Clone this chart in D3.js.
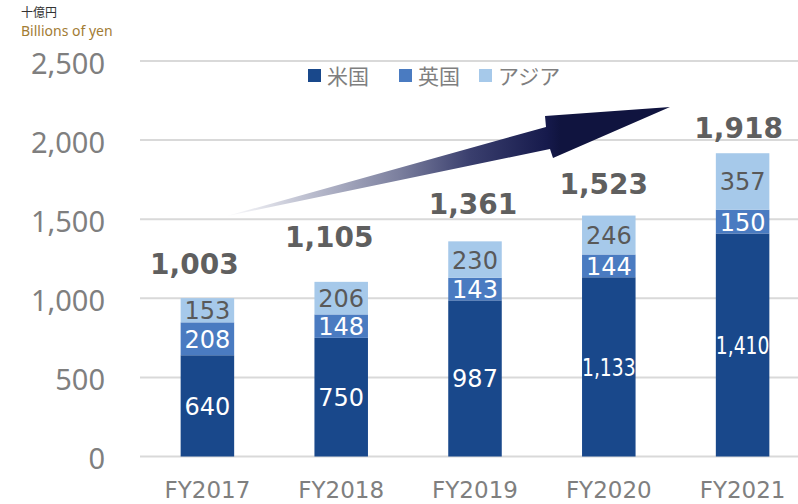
<!DOCTYPE html>
<html lang="ja">
<head>
<meta charset="utf-8">
<script src="https://cdn.jsdelivr.net/npm/d3@7"></script>
<style>
  html, body { margin: 0; padding: 0; background: #fff; }
  svg { display: block; }
</style>
</head>
<body>
<svg id="chart" width="798" height="504"></svg>
<script>
// Revenue by region, billions of yen
const years = ["FY2017", "FY2018", "FY2019", "FY2020", "FY2021"];
const seriesNames = ["米国", "英国", "アジア"];
const us = [640, 750, 987, 1133, 1410];
const uk = [208, 148, 143, 144, 150];
const asia = [153, 206, 230, 246, 357];
const totals = [1003, 1105, 1361, 1523, 1918];
const yTicks = [0, 500, 1000, 1500, 2000, 2500];

const colors = ["#19488b", "#4a7bc1", "#a6c9ea"];
const labelColors = ["#ffffff", "#ffffff", "#595959"];

// hand-tuned nudges for the total labels (dx, dy from bar top)
const totalNudge = [[-13, -24], [-12, -35], [-2, -27], [-5, -22], [-4, -15]];

const svg = d3.select("#chart");
const W = 798, H = 504;

const x = d3.scaleBand().domain(years).range([140.5, 809.5]).paddingInner(0.6).paddingOuter(0.3);
const y = d3.scaleLinear().domain([0, 2500]).range([456.5, 61]);

// rows for stacking
const rows = years.map((yr, i) => ({ year: yr, "米国": us[i], "英国": uk[i], "アジア": asia[i] }));
const stacked = d3.stack().keys(seriesNames)(rows);

// unit headers
svg.append("text").attr("x", 21).attr("y", 17)
  .attr("font-family", "'Noto Sans CJK JP', 'Noto Sans', sans-serif")
  .attr("font-size", 12).attr("fill", "#333").text("十億円");
svg.append("text").attr("x", 21).attr("y", 36)
  .attr("font-family", "'Noto Sans', sans-serif")
  .attr("font-size", 14).attr("fill", "#a27c34").text("Billions of yen");

// gridlines
svg.append("g").selectAll("line").data(yTicks).join("line")
  .attr("x1", 140).attr("x2", W)
  .attr("y1", d => y(d)).attr("y2", d => y(d))
  .attr("stroke", "#d9d9d9").attr("stroke-width", 2);

// y axis labels
const yAxis = d3.axisLeft(y).tickValues(yTicks).tickSize(0).tickPadding(0)
  .tickFormat(d3.format(","));
const gy = svg.append("g").attr("transform", "translate(105,0)").call(yAxis);
gy.select(".domain").remove();
gy.selectAll("text")
  .attr("font-family", "'Noto Sans', sans-serif")
  .attr("font-size", 29).attr("fill", "#7f7f7f")
  .attr("dy", null).attr("y", 12);

// x axis labels
const xAxis = d3.axisBottom(x).tickSize(0).tickPadding(0);
const gx = svg.append("g").attr("transform", "translate(0,497.5)").call(xAxis);
gx.select(".domain").remove();
gx.selectAll("text")
  .attr("font-family", "'DejaVu Sans', sans-serif")
  .attr("font-size", 23).attr("fill", "#7f7f7f")
  .attr("dy", null).attr("y", 0);

// arrow (gradient)
const defs = svg.append("defs");
const grad = defs.append("linearGradient").attr("id", "arrowGrad")
  .attr("gradientUnits", "userSpaceOnUse")
  .attr("x1", 225).attr("y1", 0).attr("x2", 560).attr("y2", 0);
[[0, "#ffffff"], [0.2, "#c8cad8"], [0.52, "#7b7f9e"], [0.73, "#3a3f6e"], [0.96, "#161a4c"], [1, "#10143f"]]
  .forEach(([o, c]) => grad.append("stop").attr("offset", o).attr("stop-color", c));
const arrowPts = [[225, 216.5], [546, 127], [545, 116], [670, 107], [553, 158], [550, 149]];
svg.append("path")
  .attr("d", d3.line()(arrowPts) + "Z")
  .attr("fill", "url(#arrowGrad)");

// stacked bars
const gBars = svg.append("g");
stacked.forEach((layer, si) => {
  gBars.append("g").attr("fill", colors[si])
    .selectAll("rect").data(layer).join("rect")
    .attr("x", d => x(d.data.year))
    .attr("width", x.bandwidth())
    .attr("y", d => y(d[1]))
    .attr("height", d => y(d[0]) - y(d[1]));
});

// segment value labels
stacked.forEach((layer, si) => {
  svg.append("g").selectAll("text").data(layer).join("text")
    .attr("x", d => x(d.data.year) + x.bandwidth() / 2)
    .attr("y", d => (y(d[0]) + y(d[1])) / 2 + 9)
    .attr("text-anchor", "middle")
    .attr("font-family", "'DejaVu Sans', sans-serif")
    .attr("font-size", 24)
    .attr("fill", labelColors[si])
    .text(d => d3.format(",")(d[1] - d[0]))
    .each(function () {
      const w = this.getComputedTextLength();
      if (w > x.bandwidth()) {
        d3.select(this).attr("textLength", x.bandwidth()).attr("lengthAdjust", "spacingAndGlyphs");
      }
    });
});

// totals above bars
const topLayer = stacked[stacked.length - 1];
svg.append("g").selectAll("text").data(totals).join("text")
  .attr("x", (d, i) => x(years[i]) + x.bandwidth() / 2 + totalNudge[i][0])
  .attr("y", (d, i) => y(topLayer[i][1]) + totalNudge[i][1])
  .attr("text-anchor", "middle")
  .attr("font-family", "'DejaVu Sans', sans-serif")
  .attr("font-weight", "bold")
  .attr("font-size", 28)
  .attr("fill", "#5f5f5f")
  .text(d => d3.format(",")(d));

// legend
const legendX = [308, 399, 479];
const lg = svg.append("g");
seriesNames.forEach((name, i) => {
  lg.append("rect").attr("x", legendX[i]).attr("y", 69).attr("width", 13).attr("height", 13)
    .attr("fill", colors[i]);
  lg.append("text").attr("x", legendX[i] + 19).attr("y", 84)
    .attr("font-family", "'Noto Sans CJK JP', sans-serif")
    .attr("font-size", 21).attr("fill", "#7f7f7f").text(name);
});
</script>
</body>
</html>
